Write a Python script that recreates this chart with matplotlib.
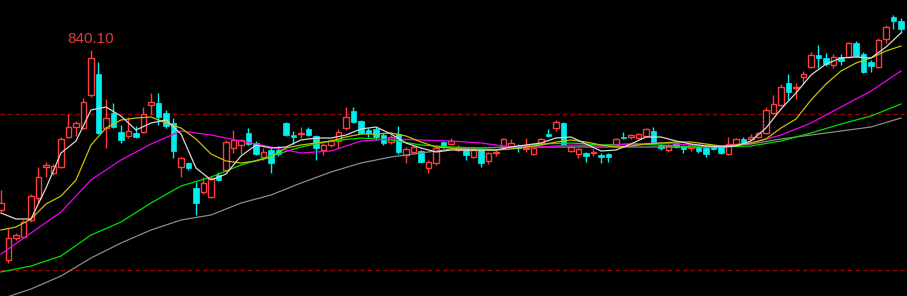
import numpy as np
import matplotlib
matplotlib.use("Agg")
import matplotlib.pyplot as plt

# ---- data (price units) ----
opens = [680,630,652,653,670,692,723,717,723,753, 763,762,795,816,762,777,758,754,757,758,
         785,787,777,767,723,727,702,698,693,715, 720,742,745,757,747,733,740,740,767,755,
         756,761,754,740,745,749,762,779,769,760, 761,755,748,756,735,738,739,722,727,748,
         746,740,741,733,740,729,737,744,743,744, 741,736,747,756,762,767,739,736,737,737,
         735,736,745,753,753,752,754,759,745,740, 747,744,742,743,742,743,743,736,746,751,
         751,753,757,777,785,807,802,813,823,835, 832,825,833,833,847,836,828,823,851,873,
         869]
highs = [700,662,657,670,696,723,728,726,753,776, 769,792,840.1,828,791,787,765,773,764,783,
         797,797,780,772,733,728,708,713,714,718, 750,760,751,762,749,742,742,744,768,759,
         763,763,755,747,751,761,783,783,770,762, 763,757,755,764,743,745,740,730,744,749,
         752,745,743,742,741,738,740,752,751,746, 752,743,752,761,770,768,744,742,738,741,
         737,737,752,758,756,757,762,763,746,746, 748,745,746,744,743,744,745,753,752,753,
         756,758,783,795,806,816,807,819,838,845, 837,836,836,848,849,838,830,852,865,875,
         872]
lows = [678,627,650,652,668,687,713,715,722,752, 754,761,793,756,742,762,747,752,752,757,
        775,765,762,732,713,720,675,696,692,709, 718,737,736,745,735,730,717,734,754,746,
        752,754,730,735,743,742,760,767,756,753, 750,745,746,736,727,737,727,717,725,742,
        745,739,730,732,723,726,734,743,742,738, 738,735,745,753,759,744,738,732,728,734,
        727,728,744,751,751,751,753,746,740,738, 742,737,739,737,733,740,736,735,745,747,
        750,752,756,776,784,790,791,806,822,822, 824,822,825,832,833,817,818,822,847,861,
        857]
closes = [687,652,655,668,694,713,725,724,751,763, 767,788,832,757,772,763,750,759,753,776,
          788,773,764,739,732,722,687,707,712,710, 748,750,750,746,736,738,727,736,755,753,
          757,755,742,745,749,758,773,768,757,757, 753,747,753,738,741,743,728,728,742,743,
          749,743,735,740,727,737,738,751,747,742, 742,742,751,754,768,745,743,741,734,738,
          733,733,751,752,755,756,761,747,742,744, 743,741,745,739,736,741,737,746,751,748,
          753,757,780,786,803,798,803,816,835,832, 826,833,829,847,834,818,824,850,863,869,
          861]

# moving averages (MA5/MA10 every 2 bars, others every 4 bars)
ma5 = [677,671,671,702,737,749,780,783,774,760, 767,770,756,722,710,716,734,745,742,743,
       750,752,752,755,761,763,756,747,742,738, 740,740,740,740,743,745,747,752,753,746,
       739,740,746,753,753,749,746,744,743,744, 749,762,781,797,815,826,832,833,832,843,
       857]
ma10 = [660,663,671,686,694,710,745,762,770,772, 773,767,762,751,736,729,727,729,733,742,
        745,747,749,753,756,756,757,754,748,743, 742,740,740,740,741,743,745,748,750,748,
        745,743,744,746,747,748,748,746,744,745, 747,751,762,771,790,806,819,827,832,839,
        844]
ma20 = [636,657,678,710,730,746,759,755,749,743, 737,739,749,751,750,749,747,743,743,745,
        744,746,747,745,744,747,755,767,783,799, 819]
ma60 = [618,624,634,655,668,687,704,713,725,734, 743,749,752,750,745,743,742,743,746,747,
        745,746,745,743,743,744,749,757,766,774, 786]
ma120 = [591,601,614,632,647,660,670,675,687,695, 707,718,727,733,737,741,742,743,743,743,
         743,743,743,743,743,746,751,755,759,763, 772]

levels = [776, 620]
peak_label = "840.10"

# ---- drawing ----
UP = "#ff3c3c"
DOWN = "#00eeee"

fig = plt.figure(figsize=(9.07, 2.96), dpi=100, facecolor="black")
ax = fig.add_axes([0, 0, 1, 1])
ax.set_facecolor("black")

n = len(opens)
x = np.arange(n)
o = np.array(opens, float); c = np.array(closes, float)
h = np.array(highs, float); l = np.array(lows, float)
up = c >= o

for lev in levels:
    ax.axhline(lev, color="#a00000", lw=1.0, ls=(0, (3.1, 2.3)), zorder=0)

ax.vlines(x[up], l[up], h[up], color=UP, lw=1.0, zorder=1)
ax.vlines(x[~up], l[~up], h[~up], color=DOWN, lw=1.0, zorder=1)
ax.bar(x[up], np.maximum(c[up] - o[up], 0.6), bottom=o[up], width=0.68,
       facecolor="black", edgecolor=UP, lw=1.0, zorder=2)
ax.bar(x[~up], np.maximum(o[~up] - c[~up], 0.6), bottom=c[~up], width=0.72,
       facecolor=DOWN, edgecolor=DOWN, lw=0.5, zorder=2)

ax.plot(np.arange(len(ma120)) * 4, ma120, color="#8a8a8a", lw=0.9, zorder=3)
ax.plot(np.arange(len(ma60)) * 4, ma60, color="#00dd00", lw=0.9, zorder=3)
ax.plot(np.arange(len(ma20)) * 4, ma20, color="#ee00ee", lw=0.9, zorder=3)
ax.plot(np.arange(len(ma10)) * 2, ma10, color="#c8c000", lw=0.9, zorder=3)
ax.plot(np.arange(len(ma5)) * 2, ma5, color="#d8d8d8", lw=0.9, zorder=3)

ipk = int(np.argmax(h[:60]))
ax.annotate(peak_label, (ipk, h[ipk]), xytext=(0, 3), textcoords="offset points",
            ha="center", va="bottom", color="#e03c3c", fontsize=11,
            family="Liberation Sans")

ax.set_xlim(-1 / 7.5, 906 / 7.5)
ax.set_ylim(594, 890)
ax.set_axis_off()

fig.savefig("out.png", dpi=100, facecolor="black")
